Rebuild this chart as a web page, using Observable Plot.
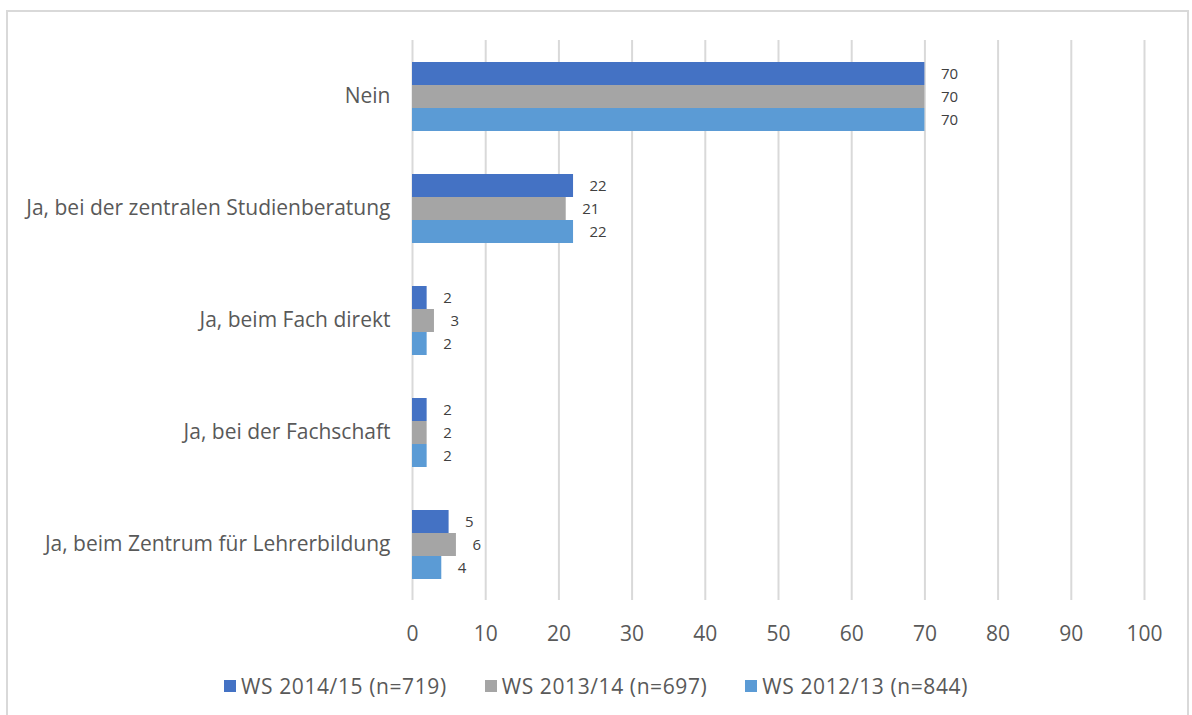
<!DOCTYPE html>
<html>
<head>
<meta charset="utf-8">
<script src="https://cdn.jsdelivr.net/npm/d3@7"></script>
<script src="https://cdn.jsdelivr.net/npm/@observablehq/plot@0.6"></script>
<style>
  html, body { margin: 0; padding: 0; background: #fff; }
  body { width: 1192px; height: 715px; position: relative; overflow: hidden; font-family: "Open Sans", sans-serif; }
  #frame { position: absolute; left: 6px; top: 10px; width: 1183px; height: 720px; border: 2px solid #d9d9d9; box-sizing: border-box; }
  #chart { position: absolute; left: 0; top: 0; }
  #legend { position: absolute; left: 0; top: 672px; width: 1192px; display: flex; justify-content: center; gap: 38px; font-size: 21px; letter-spacing: 0.6px; color: #595959; }
  #legend .item { display: flex; align-items: center; }
  #legend .sw { width: 12px; height: 12px; margin-right: 5px; }
</style>
</head>
<body>
<div id="frame"></div>
<div id="chart"></div>
<div id="legend"></div>
<script>
const categories = [
  "Nein",
  "Ja, bei der zentralen Studienberatung",
  "Ja, beim Fach direkt",
  "Ja, bei der Fachschaft",
  "Ja, beim Zentrum für Lehrerbildung"
];
const series = ["WS 2014/15 (n=719)", "WS 2013/14 (n=697)", "WS 2012/13 (n=844)"];
const colors = ["#4472C4", "#A5A5A5", "#5B9BD5"];
const values2014 = [70, 22, 2, 2, 5];
const values2013 = [70, 21, 3, 2, 6];
const values2012 = [70, 22, 2, 2, 4];
const xTicks = [0, 10, 20, 30, 40, 50, 60, 70, 80, 90, 100];

const seriesValues = [values2014, values2013, values2012];
const data = [];
categories.forEach((c, i) => {
  series.forEach((s, j) => data.push({category: c, series: s, value: seriesValues[j][i]}));
});

const chart = Plot.plot({
  width: 1192,
  height: 660,
  marginLeft: 412,
  marginRight: 48,
  marginTop: 38,
  marginBottom: 59,
  style: {fontFamily: "'Open Sans', sans-serif", background: "transparent"},
  x: {domain: [0, 100], axis: null},
  y: {domain: series, axis: null, paddingInner: 0, paddingOuter: 0.9},
  fy: {domain: categories, padding: 0, label: null},
  color: {domain: series, range: colors},
  marks: [
    Plot.gridX({ticks: xTicks, stroke: "#d9d9d9", strokeOpacity: 1, strokeWidth: 2}),
    Plot.barX(data, {x: "value", y: "series", fy: "category", fill: "series"}),
    Plot.text(data, {x: "value", y: "series", fy: "category", text: d => String(d.value), dx: 16, textAnchor: "start", fontSize: 15, fill: "#404040"}),
    Plot.axisX({ticks: xTicks, tickSize: 0, tickPadding: 26, fontSize: 21, fill: "#595959", label: null}),
    Plot.axisFy({anchor: "left", tickSize: 0, tickPadding: 22, fontSize: 21, fill: "#595959", label: null})
  ]
});
document.getElementById("chart").appendChild(chart);

const legend = document.getElementById("legend");
series.forEach((s, i) => {
  const item = document.createElement("div");
  item.className = "item";
  const sw = document.createElement("span");
  sw.className = "sw";
  sw.style.background = colors[i];
  const t = document.createElement("span");
  t.textContent = s;
  item.appendChild(sw);
  item.appendChild(t);
  legend.appendChild(item);
});
</script>
</body>
</html>
